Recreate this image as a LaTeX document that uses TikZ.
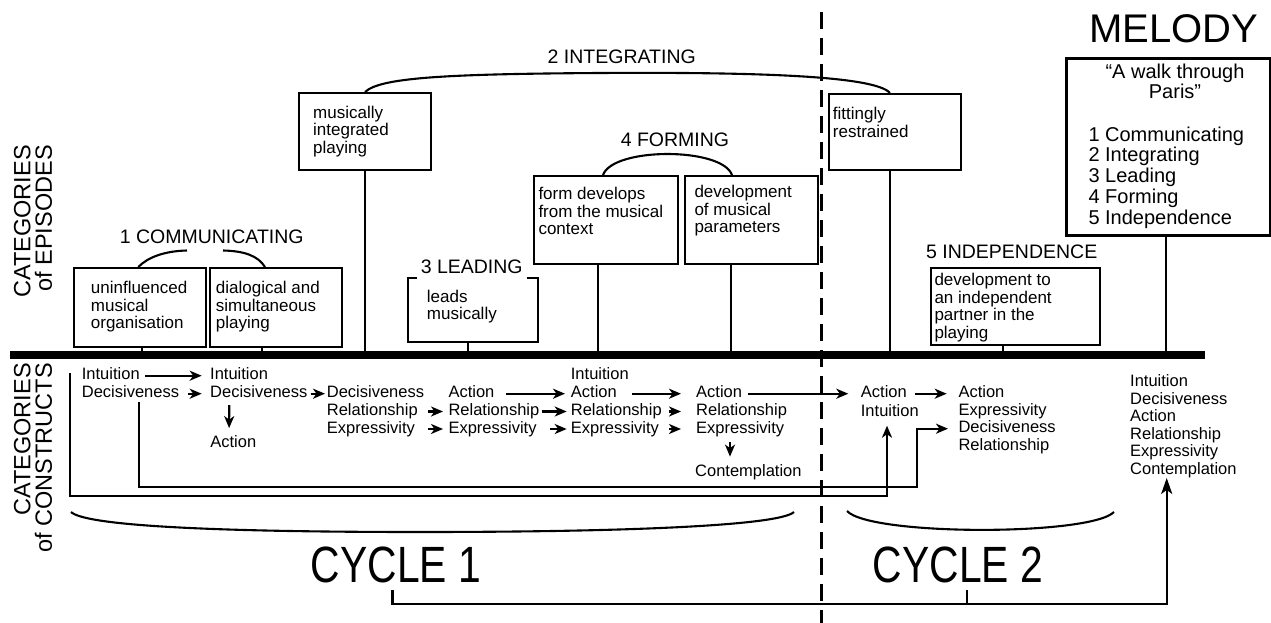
\documentclass[tikz,border=0pt]{standalone}
\usepackage{fontspec}
\usepackage{graphicx}
\setmainfont{Liberation Sans}
\usetikzlibrary{arrows.meta,calc}
\begin{document}
\begin{tikzpicture}[x=1pt,y=-1pt,
  ebox/.style={draw, line width=2.2pt, inner sep=0pt, anchor=north west},
  btxt/.style={anchor=west, align=left, inner sep=0pt, font=\fontsize{17}{17.5}\selectfont},
  glabel/.style={inner sep=0pt, font=\fontsize{19.5}{20}\selectfont},
  word/.style={anchor=west, inner sep=0pt, text height=11.8pt, text depth=3.4pt, font=\fontsize{16.5}{17.6}\selectfont},
  conn/.style={line width=2.1pt},
  stem/.style={line width=2.1pt},
  arr/.style={line width=2.1pt, -{Stealth[length=12pt,width=10pt,inset=3.5pt]}},
  bigarr/.style={line width=2.4pt, -{Stealth[length=16pt,width=11pt,inset=4pt]}},
  vlabel/.style={rotate=90, anchor=east, align=right, inner sep=0pt, font=\fontsize{23.5}{21.5}\selectfont},
  cyc/.style={inner sep=0pt, font=\fontsize{51}{51}\selectfont}
]
\useasboundingbox (0,0) rectangle (1271,623);

% dashed divider
\draw[line width=3pt, dash pattern=on 17pt off 9pt] (821.5,12) -- (821.5,623);

% vertical labels
\node[vlabel] (v1) at (33,145) {CATEGORIES\\of EPISODES};
\node[vlabel] (v2) at (33,363) {CATEGORIES\\of CONSTRUCTS};

% bar
\coordinate (barL) at (10,355);
\coordinate (barR) at (1205,355);

% episode boxes
\node[ebox, minimum width=132pt, minimum height=79pt] (b1) at (73,267) {};
\node[ebox, minimum width=132pt, minimum height=79pt] (b2) at (209,267) {};
\node[ebox, minimum width=132pt, minimum height=77pt] (b3) at (298,92) {};
\node[inner sep=0pt, anchor=north west, minimum width=130pt, minimum height=64pt] (bl) at (408,278) {};
\node[ebox, minimum width=144pt, minimum height=88pt] (b5) at (533,175) {};
\node[ebox, minimum width=133pt, minimum height=88pt] (b6) at (684,175) {};
\node[ebox, minimum width=132pt, minimum height=76pt] (b7) at (828,93) {};
\node[ebox, minimum width=169pt, minimum height=77pt] (b8) at (930,267) {};
\node[ebox, line width=3pt, minimum width=204pt, minimum height=177pt] (bm) at (1065,57) {};

\draw[conn] ([xshift=9pt]bl.north west) -- (bl.north west) -- (bl.south west) -- (bl.south east) -- (bl.north east) -- ([xshift=-11.5pt]bl.north east);

% box texts
\node[btxt] (t1) at (90.7,306.8) {uninfluenced\\musical\\organisation};
\node[btxt] (t2) at (215.7,306.8) {dialogical and\\simultaneous\\playing};
\node[btxt] (t3) at (313,131.5) {musically\\integrated\\playing};
\node[btxt] (tl) at (426.7,306.5) {leads\\musically};
\node[btxt] (t5) at (538.3,211) {form develops\\from the musical\\context};
\node[btxt] (t6) at (694.3,211) {development\\of musical\\parameters};
\node[btxt] (t7) at (832.7,122.3) {fittingly\\restrained};
\node[btxt] (t8) at (934.3,307.7) {development to\\an independent\\partner in the\\playing};

% melody
\node[inner sep=0pt, font=\fontsize{40}{40}\selectfont] (mel) at (1174,28.3) {MELODY};
\node[align=center, inner sep=0pt, font=\fontsize{20}{20}\selectfont] (mt) at (1175,81) {“A walk through\\Paris”};
\node[anchor=west, align=left, inner sep=0pt, font=\fontsize{20}{20.8}\selectfont] (ml) at (1088.3,177.5) {1 Communicating\\2 Integrating\\3 Leading\\4 Forming\\5 Independence};

% group labels
\node[glabel] (g1) at (211.7,236.7) {1 COMMUNICATING};
\node[glabel] (g2) at (621.7,56.7) {2 INTEGRATING};
\node[glabel] (g3) at (471.7,266.7) {3 LEADING};
\node[glabel] (g4) at (675,140) {4 FORMING};
\node[glabel] (g5) at (1011.7,251.7) {5 INDEPENDENCE};

% group arcs
\draw[conn] ([xshift=65.3pt]b1.north west) .. controls (148,257) and (165,251) .. (187,250.5);
\draw[conn] (223,250.5) .. controls (245,251) and (258,256) .. ([xshift=56pt]b2.north west);
\draw[conn] ([xshift=70pt]b5.north west) .. controls (613,147) and (722,147) .. ([xshift=48pt]b6.north west);
\draw[conn] ([xshift=67pt]b3.north west) .. controls (380,78) and (440,74) .. (600,73) .. controls (760,72) and (875,76) .. ([xshift=62pt]b7.north west);

% stems
\draw[stem] ([xshift=68.7pt]b1.south west) coordinate (s1) -- (s1 |- barL);
\draw[stem] ([xshift=52.7pt]b2.south west) coordinate (s2) -- (s2 |- barL);
\draw[stem] ([xshift=67.3pt]b3.south west) coordinate (s3) -- (s3 |- barL);
\draw[stem] ([xshift=60.3pt]bl.south west) coordinate (s4) -- (s4 |- barL);
\draw[stem] ([xshift=65.3pt]b5.south west) coordinate (s5) -- (s5 |- barL);
\draw[stem] ([xshift=47pt]b6.south west) coordinate (s6) -- (s6 |- barL);
\draw[stem] ([xshift=62pt]b7.south west) coordinate (s7) -- (s7 |- barL);
\draw[stem] ([xshift=72.7pt]b8.south west) coordinate (s8) -- (s8 |- barL);
\draw[stem] ([xshift=101pt]bm.south west) coordinate (s9) -- (s9 |- barL);

\draw[line width=8.5pt] (barL) -- (barR);

% constructs
\node[word] (c1a) at (81.7,375.7) {Intuition};
\node[word] (c1b) at (81.7,393.7) {Decisiveness};
\node[word] (c2a) at (210,375.7) {Intuition};
\node[word] (c2b) at (210,393.7) {Decisiveness};
\node[word,anchor=center] (c2c) at (233.3,443.4) {Action};
\node[word] (c3a) at (326.7,393.7) {Decisiveness};
\node[word] (c3b) at (326.7,411.5) {Relationship};
\node[word] (c3c) at (326.7,429) {Expressivity};
\node[word] (c4a) at (448.3,393.7) {Action};
\node[word] (c4b) at (448.3,411.5) {Relationship};
\node[word] (c4c) at (448.3,429) {Expressivity};
\node[word] (c5a) at (570.7,375.7) {Intuition};
\node[word] (c5b) at (570.7,393.7) {Action};
\node[word] (c5c) at (570.7,411.5) {Relationship};
\node[word] (c5d) at (570.7,429) {Expressivity};
\node[word] (c6a) at (696,393.7) {Action};
\node[word] (c6b) at (696,411.5) {Relationship};
\node[word] (c6c) at (696,429) {Expressivity};
\node[word] (c6d) at (695,472.4) {Contemplation};
\node[word] (c7a) at (860.7,393.7) {Action};
\node[word] (c7b) at (860.7,411.9) {Intuition};
\node[word] (c8a) at (958.3,393.7) {Action};
\node[word] (c8b) at (958.3,411.2) {Expressivity};
\node[word] (c8c) at (958.3,428.7) {Decisiveness};
\node[word] (c8d) at (958.3,446.2) {Relationship};
\node[anchor=west, align=left, inner sep=0pt, font=\fontsize{16.5}{17.5}\selectfont] (m1) at (1130,426.3) {Intuition\\Decisiveness\\Action\\Relationship\\Expressivity\\Contemplation};

\draw[arr, shorten <=5.5pt, shorten >=8.3pt] (c1a.east) -- (c2a.west);
\draw[arr, shorten <=9pt, shorten >=8.3pt] (c1b.east) -- (c2b.west);
\draw[arr, shorten <=3pt, shorten >=1.7pt] (c2b.east) -- (c3a.west);
\draw[arr, shorten <=3.7pt, shorten >=7.5pt] ([xshift=19.3pt]c2b.south west) -- ([xshift=18.9pt]c2c.north west);
\draw[arr, shorten <=10.5pt, shorten >=5.3pt] (c3b.east) -- (c4b.west);
\draw[arr, shorten <=13.3pt, shorten >=5.3pt] (c3c.east) -- (c4c.west);
\draw[arr, shorten <=11.8pt, shorten >=5.7pt] (c4a.east) -- (c5b.west);
\draw[arr, shorten <=2pt, shorten >=4pt] (c4b.east) -- (c5c.west);
\draw[arr, shorten <=13.7pt, shorten >=4pt] (c4c.east) -- (c5d.west);
\draw[arr, shorten <=15pt, shorten >=15pt] (c5b.east) -- (c6a.west);
\draw[arr, shorten <=7.5pt, shorten >=15pt] (c5c.east) -- (c6b.west);
\draw[arr, shorten <=10.3pt, shorten >=15pt] (c5d.east) -- (c6c.west);
\draw[arr, shorten <=5.6pt, shorten >=8pt] ([xshift=34pt]c6c.south west) -- ([xshift=35pt]c6d.north west);
\draw[arr, shorten <=5.8pt, shorten >=12.4pt] (c6a.east) -- (c7a.west);
\draw[arr, shorten <=8.4pt, shorten >=11.6pt] (c7a.east) -- (c8a.west);

% outer and inner routes
\coordinate (o0) at (70,373);
\coordinate (o1) at (70,496);
\coordinate (o2) at (887,496);
\draw[arr, shorten >=6pt] (o0) -- (o1) -- (o2) -- (o2 |- c7b.south);
\coordinate (i1) at (138.7,487);
\coordinate (i2) at (917,487);
\draw[arr, shorten >=10.3pt] ([xshift=57pt]c1b.south west) -- (i1) -- (i2) -- (i2 |- c8c.west) -- (c8c.west);

% cycles
\draw[conn] (71,512) .. controls (85,525) and (200,532) .. (420,532) .. controls (640,532) and (780,525) .. (794,512);
\draw[conn] (847,511) .. controls (870,536) and (1090,536) .. (1114,512);
\node[cyc] (cy1) at (396,565) {\scalebox{0.8}[1]{CYCLE 1}};
\node[cyc] (cy2) at (958,565) {\scalebox{0.8}[1]{CYCLE 2}};
\coordinate (k1) at (392.4,590);
\coordinate (k2) at (392.4,604);
\coordinate (k3) at (1166.7,604);
\coordinate (k4) at (967,590);
\coordinate (k5) at (967,604);
\draw[bigarr] (k1) -- (k2) -- (k3) -- ([xshift=36.7pt]m1.south west);
\draw[line width=2.4pt] (k4) -- (k5);
\end{tikzpicture}
\end{document}
